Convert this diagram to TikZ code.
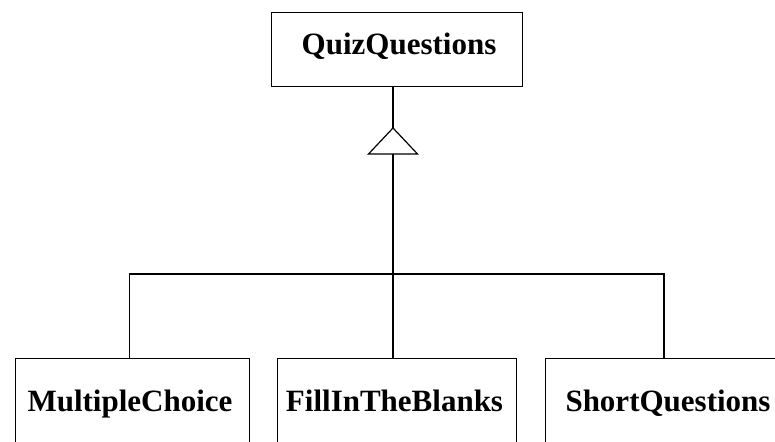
\documentclass[tikz,border=0pt]{standalone}
\usepackage{fontspec}
\setmainfont{Liberation Serif}
\begin{document}
\begin{tikzpicture}[x=1pt,y=1pt, line width=1.3pt,
  box/.style={draw, rectangle, inner sep=0pt, anchor=north west},
  lbl/.style={font=\fontsize{31}{37}\selectfont\bfseries, anchor=base, inner sep=0pt}]
\useasboundingbox (0,0) rectangle (775,441);
\clip (0,0) rectangle (775,441);
% superclass
\node[box, minimum width=251pt, minimum height=74pt] (quiz) at (271,429) {};
\node[lbl] (quizt) at (399,386) {QuizQuestions};
% subclasses (cut off at the lower edge)
\node[box, minimum width=234.5pt, minimum height=140pt] (mc) at (14.5,83) {};
\node[lbl] (mct) at (130,29) {MultipleChoice};
\node[box, minimum width=239pt, minimum height=140pt] (fb) at (277,83) {};
\node[lbl] (fbt) at (394.5,29) {FillInTheBlanks};
\node[box, minimum width=260pt, minimum height=140pt] (sq) at (545,83) {};
\node[lbl] (sqt) at (668,29) {ShortQuestions};
% connectors
\coordinate (bus) at (393,167);
\coordinate (apex) at (393,313);
\draw (bus |- quiz.south) -- (bus);
\draw ([xshift=-2.75pt]mc.north) |- (bus);
\draw ([xshift=119pt]sq.north west) |- (bus);
\draw (bus) -- (bus |- fb.north);
\draw[fill=white, line width=1.2pt] (apex) -- ++(-24.5,-26) -- ++(49,0) -- cycle;
\end{tikzpicture}
\end{document}
